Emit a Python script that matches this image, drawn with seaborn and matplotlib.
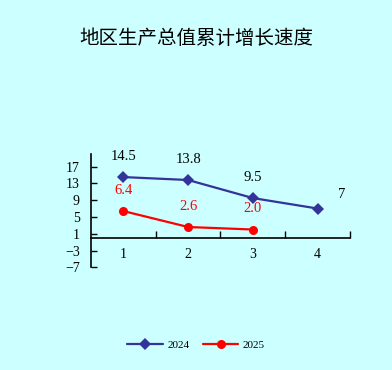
import pandas as pd
import matplotlib
matplotlib.use("Agg")
import matplotlib.pyplot as plt
import seaborn as sns

# data
quarters = [1, 2, 3, 4]
growth_2024 = [14.5, 13.8, 9.5, 7]
growth_2025 = [6.4, 2.6, 2.0]
label_2024 = ["14.5", "13.8", "9.5", "7"]
label_2025 = ["6.4", "2.6", "2.0"]
y_ticks = [-7, -3, 1, 5, 9, 13, 17]

df = pd.concat([
    pd.DataFrame({"quarter": quarters, "value": growth_2024, "year": "2024"}),
    pd.DataFrame({"quarter": quarters[:len(growth_2025)], "value": growth_2025, "year": "2025"}),
])

BG = "#CCFFFF"
sns.set_style("white", {"axes.facecolor": BG, "figure.facecolor": BG,
                        "text.color": "black", "xtick.color": "black",
                        "ytick.color": "black"})
plt.rcParams["font.family"] = ["Liberation Serif", "DejaVu Serif"]

fig = plt.figure(figsize=(3.92, 3.70), dpi=100)
ax = fig.add_axes([0.2321, 0.2776, 0.6607, 0.3062])

sns.lineplot(data=df, x="quarter", y="value", hue="year", style="year",
             palette={"2024": "#333399", "2025": "#FF0000"},
             markers={"2024": "D", "2025": "o"}, dashes=False,
             markersize=6.5, markeredgewidth=0, linewidth=1.6, ax=ax)

# value labels
for x, v, t in zip(quarters, growth_2024, label_2024):
    off = (17, 10) if t == "7" else (0, 15)
    ax.annotate(t, (x, v), xytext=off, textcoords="offset points",
                ha="center", va="center", fontsize=10.5, color="black")
for x, v, t in zip(quarters, growth_2025, label_2025):
    ax.annotate(t, (x, v), xytext=(0, 15), textcoords="offset points",
                ha="center", va="center", fontsize=10.5, color="#FF0000")

ax.set_xlim(0.5, 4.5)
ax.set_ylim(-7, 20)
ax.set_yticks(y_ticks)
ax.set_xticks(quarters)
ax.set_xticks([1.5, 2.5, 3.5, 4.5], minor=True)
ax.set_xlabel("")
ax.set_ylabel("")

for s in ["top", "right"]:
    ax.spines[s].set_visible(False)
ax.spines["bottom"].set_position(("data", 0))
for s in ["left", "bottom"]:
    ax.spines[s].set_color("black")
    ax.spines[s].set_linewidth(1.2)

ax.tick_params(axis="y", left=True, direction="in", length=4, width=1,
               color="black", pad=8, labelsize=10)
ax.tick_params(axis="x", which="major", bottom=True, length=0, pad=7, labelsize=10)
ax.tick_params(axis="x", which="minor", bottom=True, direction="in", length=5,
               width=1, color="black")

fig.suptitle("地区生产总值累计增长速度", y=0.925, fontsize=14, color="black",
             family=["Noto Sans CJK SC", "DejaVu Sans"])

leg = ax.legend(loc="center", bbox_to_anchor=(0.5, 0.068),
                bbox_transform=fig.transFigure, ncol=2, frameon=False,
                fontsize=8, handlelength=3.2, handletextpad=0.4,
                columnspacing=1.2)

fig.savefig("out.png", dpi=100, facecolor=BG)
